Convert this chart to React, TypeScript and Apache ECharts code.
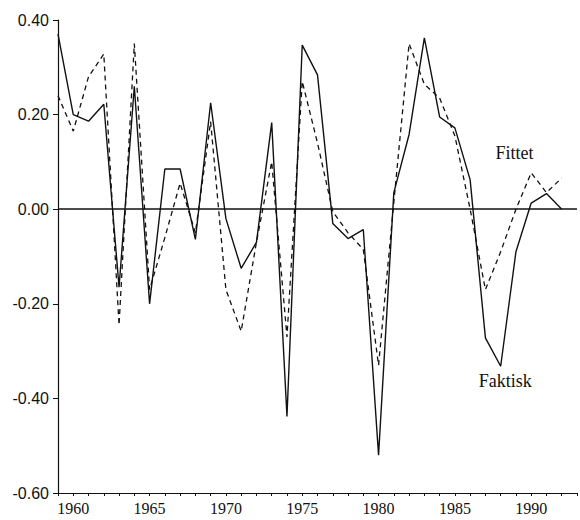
import React, { useEffect, useRef } from "react";
import * as echarts from "echarts";

// Years covered by both series
const years: number[] = [
  1959, 1960, 1961, 1962, 1963, 1964, 1965, 1966, 1967, 1968, 1969, 1970,
  1971, 1972, 1973, 1974, 1975, 1976, 1977, 1978, 1979, 1980, 1981, 1982,
  1983, 1984, 1985, 1986, 1987, 1988, 1989, 1990, 1991, 1992,
];

// Observed values (solid line)
const faktisk: number[] = [
  0.37, 0.2, 0.186, 0.222, -0.165, 0.26, -0.2, 0.085, 0.085, -0.064, 0.225,
  -0.02, -0.125, -0.07, 0.183, -0.438, 0.347, 0.284, -0.03, -0.062, -0.043,
  -0.52, 0.035, 0.158, 0.362, 0.195, 0.172, 0.062, -0.272, -0.332, -0.09,
  0.013, 0.033, 0.0,
];

// Fitted values (dashed line)
const fittet: number[] = [
  0.24, 0.165, 0.28, 0.328, -0.245, 0.35, -0.17, -0.06, 0.055, -0.05, 0.185,
  -0.17, -0.258, -0.07, 0.1, -0.27, 0.27, 0.14, -0.005, -0.05, -0.085, -0.33,
  0.015, 0.35, 0.264, 0.235, 0.155, 0.0, -0.17, -0.09, 0.0, 0.077, 0.035,
  0.066,
];

const serif = "'Liberation Serif', 'DejaVu Serif', serif";
const sans = "'Liberation Sans', Arial, sans-serif";
const ink = "#111111";

export default function App() {
  const ref = useRef<HTMLDivElement>(null);

  useEffect(() => {
    document.body.style.margin = "0";
    if (!ref.current) return;
    const chart = echarts.init(ref.current, undefined, { renderer: "svg" });

    const solidData = years.map((y, i) => [y, faktisk[i]]);
    const dashedData = years.map((y, i) => [y, fittet[i]]);

    chart.setOption({
      animation: false,
      backgroundColor: "#ffffff",
      grid: { left: 58, right: 0, top: 20, bottom: 27, containLabel: false },
      xAxis: {
        type: "value",
        min: 1959,
        max: 1993,
        interval: 1,
        splitLine: { show: false },
        axisLine: { show: true, onZero: false, lineStyle: { color: ink, width: 1.2 } },
        axisTick: { show: true, length: 3, lineStyle: { color: ink, width: 1 } },
        axisLabel: {
          margin: 7,
          color: ink,
          fontFamily: serif,
          fontSize: 16,
          formatter: (v: number) => (Math.round(v) % 5 === 0 ? String(Math.round(v)) : ""),
        },
      },
      yAxis: {
        type: "value",
        min: -0.6,
        max: 0.4,
        interval: 0.2,
        splitLine: { show: false },
        axisLine: { show: true, onZero: false, lineStyle: { color: ink, width: 1.2 } },
        axisTick: { show: true, length: 5, lineStyle: { color: ink, width: 1 } },
        axisLabel: {
          margin: 9,
          color: ink,
          fontFamily: sans,
          fontSize: 16,
          formatter: (v: number) => (Math.abs(v) < 1e-9 ? "0.00" : v.toFixed(2)),
        },
      },
      series: [
        {
          name: "Faktisk",
          type: "line",
          data: solidData,
          symbol: "none",
          lineStyle: { color: ink, width: 1.4, type: "solid" },
          markLine: {
            silent: true,
            symbol: "none",
            label: { show: false },
            lineStyle: { color: ink, width: 1.5, type: "solid" },
            data: [{ yAxis: 0 }],
          },
          markPoint: {
            symbol: "circle",
            symbolSize: 0,
            label: {
              show: true,
              position: "inside",
              color: ink,
              fontFamily: serif,
              fontSize: 18,
              formatter: "Faktisk",
            },
            data: [{ coord: [1988.3, -0.364] }],
          },
        },
        {
          name: "Fittet",
          type: "line",
          data: dashedData,
          symbol: "none",
          lineStyle: { color: ink, width: 1.3, type: [5, 4] },
          markPoint: {
            symbol: "circle",
            symbolSize: 0,
            label: {
              show: true,
              position: "inside",
              color: ink,
              fontFamily: serif,
              fontSize: 18,
              formatter: "Fittet",
            },
            data: [{ coord: [1988.9, 0.118] }],
          },
        },
      ],
    });

    return () => chart.dispose();
  }, []);

  return <div ref={ref} style={{ width: 580, height: 520 }} />;
}
